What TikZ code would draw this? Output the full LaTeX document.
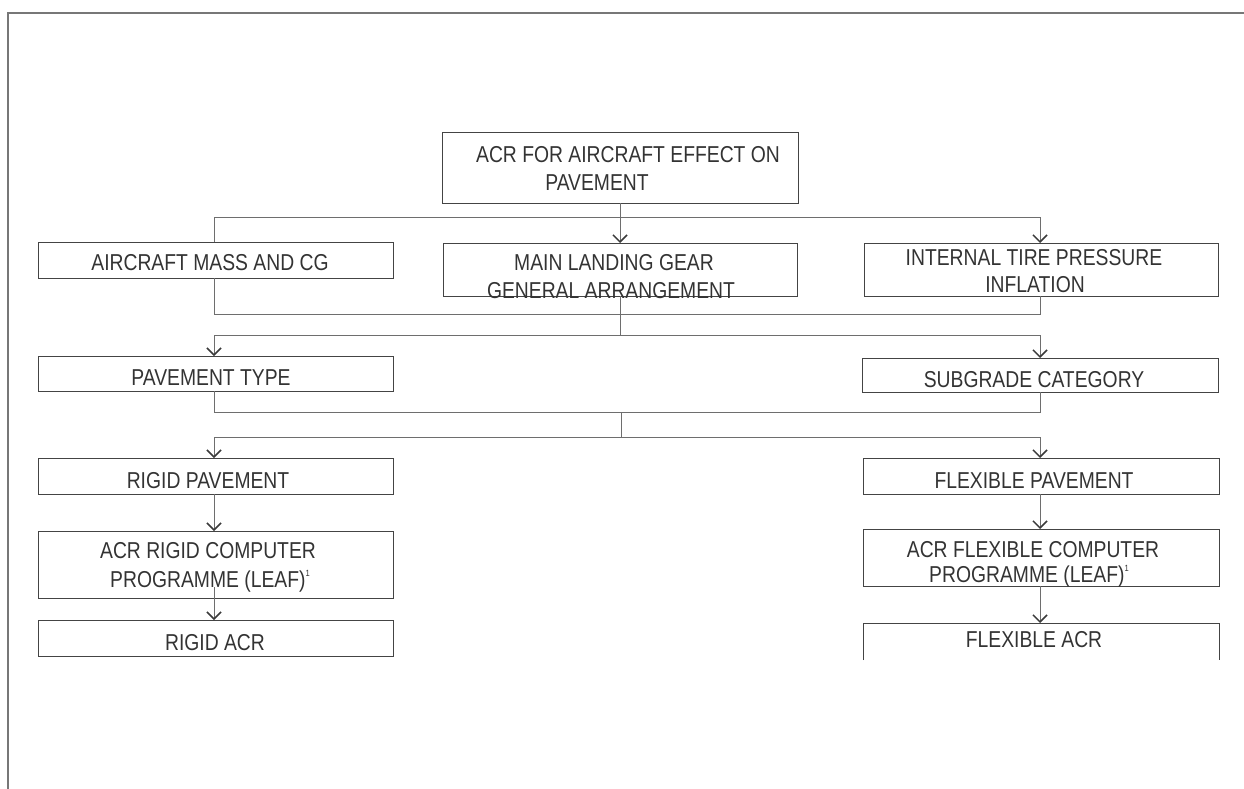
\documentclass[tikz,border=0pt]{standalone}
\usepackage{fontspec}
\setmainfont{Liberation Sans}[FakeStretch=0.84]
\usetikzlibrary{arrows.meta}
\definecolor{framec}{HTML}{777777}
\definecolor{boxc}{HTML}{444444}
\definecolor{linec}{HTML}{6E6E6E}
\definecolor{tipc}{HTML}{3A3A3A}
\definecolor{txtc}{HTML}{333333}
\newcommand{\supone}{{\fontsize{9}{9}\selectfont\raisebox{11pt}{1}}}
\begin{document}
\begin{tikzpicture}[x=1pt,y=-1pt,
  boxst/.style={draw=boxc,line width=1pt,inner sep=0pt,outer sep=0pt,rectangle},
  openbox/.style={inner sep=0pt,outer sep=0pt,rectangle},
  txt/.style={anchor=base,inner sep=0pt,text=txtc,font=\fontsize{23}{27}\selectfont},
  conn/.style={draw=linec,line width=1pt},
  arr/.style={conn,-{Straight Barb[length=7pt,width=14pt,line width=1.5pt,color=tipc]}}]
\useasboundingbox (0,0) rectangle (1244,789);
% frame
\draw[framec,line width=2pt] (8,789) -- (8,13) -- (1244,13);
% boxes
\node[boxst,minimum width=356pt,minimum height=70pt] (top) at (620,168) {};
\node[boxst,minimum width=355pt,minimum height=36pt] (mass) at (215.5,260) {};
\node[boxst,minimum width=354pt,minimum height=53pt] (mlg) at (620,269.5) {};
\node[boxst,minimum width=354pt,minimum height=53pt] (itp) at (1041,269.5) {};
\node[boxst,minimum width=355pt,minimum height=35pt] (ptype) at (215.5,373.5) {};
\node[boxst,minimum width=356pt,minimum height=34pt] (subg) at (1040,375) {};
\node[boxst,minimum width=355pt,minimum height=36pt] (rpav) at (215.5,476) {};
\node[boxst,minimum width=355pt,minimum height=67pt] (rcomp) at (215.5,564.5) {};
\node[boxst,minimum width=355pt,minimum height=36pt] (racr) at (215.5,638) {};
\node[boxst,minimum width=356pt,minimum height=36pt] (fpav) at (1041,476) {};
\node[boxst,minimum width=356pt,minimum height=57pt] (fcomp) at (1041,557.5) {};
\node[openbox,minimum width=356pt,minimum height=37pt] (facr) at (1041,641.5) {};
\draw[boxc,line width=1pt] (facr.south west) -- (facr.north west) -- (facr.north east) -- (facr.south east);
% texts
\node[txt] (t1a) at (628,162) {ACR FOR AIRCRAFT EFFECT ON};
\node[txt] (t1b) at (597,190) {PAVEMENT};
\node[txt] (t2) at (210,270) {AIRCRAFT MASS AND CG};
\node[txt] (t3a) at (614,270) {MAIN LANDING GEAR};
\node[txt] (t3b) at (611,298) {GENERAL ARRANGEMENT};
\node[txt] (t4a) at (1034,265) {INTERNAL TIRE PRESSURE};
\node[txt] (t4b) at (1035,292) {INFLATION};
\node[txt] (t5) at (211,385) {PAVEMENT TYPE};
\node[txt] (t6) at (1034,387) {SUBGRADE CATEGORY};
\node[txt] (t7) at (208,488) {RIGID PAVEMENT};
\node[txt] (t8a) at (208,558) {ACR RIGID COMPUTER};
\node[txt] (t8b) at (210,587) {PROGRAMME (LEAF)\supone};
\node[txt] (t9) at (215,650) {RIGID ACR};
\node[txt] (t10) at (1034,488) {FLEXIBLE PAVEMENT};
\node[txt] (t11a) at (1033,557) {ACR FLEXIBLE COMPUTER};
\node[txt] (t11b) at (1029,582) {PROGRAMME (LEAF)\supone};
\node[txt] (t12) at (1034,647) {FLEXIBLE ACR};
% junction coordinates
\coordinate (a1) at (214,217);
\coordinate (a2) at (1040,217);
\coordinate (b1) at (214,314);
\coordinate (b2) at (1040,314);
\coordinate (b3) at (620,335);
\coordinate (c1) at (214,335);
\coordinate (c2) at (1040,335);
\coordinate (d1) at (214,412);
\coordinate (d2) at (1040,412);
\coordinate (d3) at (621,437);
\coordinate (e1) at (214,437);
\coordinate (e2) at (1040,437);
% connectors
\draw[conn] (a1) -- (a2);
\draw[conn] (a1) -- (a1 |- mass.north);
\draw[arr] (top.south) -- (mlg.north);
\draw[arr] (a2) -- (a2 |- itp.north);
\draw[conn] (b1 |- mass.south) -- (b1) -- (b2) -- (b2 |- itp.south);
\draw[conn] (b3 |- mlg.south) -- (b3);
\draw[conn] (c1) -- (c2);
\draw[arr] (c1) -- (c1 |- ptype.north);
\draw[arr] (c2) -- (c2 |- subg.north);
\draw[conn] (d1 |- ptype.south) -- (d1) -- (d2) -- (d2 |- subg.south);
\draw[conn] (d3 |- d1) -- (d3);
\draw[conn] (e1) -- (e2);
\draw[arr] (e1) -- (e1 |- rpav.north);
\draw[arr] (e2) -- (e2 |- fpav.north);
\draw[arr] (rpav.south -| e1) -- (rcomp.north -| e1);
\draw[arr] (rcomp.south -| e1) ++(0,-11) -- (racr.north -| e1);
\draw[arr] (fpav.south -| e2) -- (fcomp.north -| e2);
\draw[arr] (fcomp.south -| e2) -- (facr.north -| e2);
\end{tikzpicture}
\end{document}
